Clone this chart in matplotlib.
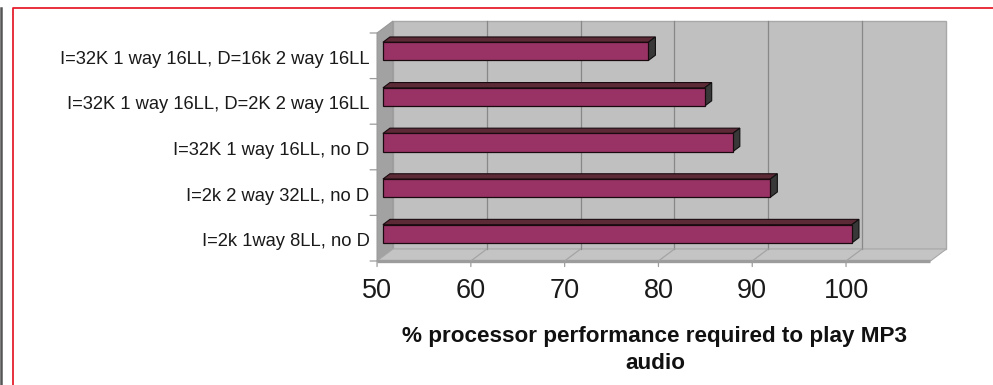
import matplotlib
matplotlib.use("Agg")
import matplotlib.pyplot as plt
from matplotlib.patches import Polygon
from matplotlib.lines import Line2D

plt.rcParams['font.family'] = ['Liberation Sans', 'DejaVu Sans']

# Cache configurations (top to bottom) and processor load needed for MP3 playback
configs = [
    "I=32K 1 way 16LL, D=16k 2 way 16LL",
    "I=32K 1 way 16LL, D=2K 2 way 16LL",
    "I=32K 1 way 16LL, no D",
    "I=2k 2 way 32LL, no D",
    "I=2k 1way 8LL, no D",
]
perf = [78.3, 84.3, 87.3, 91.3, 100.0]
ticks = [50, 60, 70, 80, 90, 100]
xlabel_lines = ["% processor performance required to play MP3", "audio"]

XMIN, XMAX = 50, 109
# oblique depth offset of the front plane relative to the back wall (data units)
DX, DY = -1.70, 0.263
BAR_FRONT, BAR_BACK = 0.63, 0.19   # depth fractions occupied by the bars
HALF = 0.2                         # half bar thickness (category units)

W, H = 993, 385
fig = plt.figure(figsize=(W / 100, H / 100), dpi=100)
ax = fig.add_axes([393 / W, 1 - 249 / H, 553.4 / W, 228 / H])
ax.set_xlim(XMIN, XMAX)
ax.set_ylim(len(configs) - 0.5, -0.5)
ax.axis('off')


def at(x, y, d):
    """Project a point of the back plane forward by depth fraction d."""
    return (x + d * DX, y + d * DY)


top, bot = -0.5, len(configs) - 0.5

# back wall
ax.add_patch(Polygon([at(XMIN, top, 0), at(XMAX, top, 0), at(XMAX, bot, 0), at(XMIN, bot, 0)],
                     closed=True, facecolor='#c0c0c0', edgecolor='#a8a8a8', lw=1.0,
                     clip_on=False, zorder=1))
# left side wall
ax.add_patch(Polygon([at(XMIN, top, 0), at(XMIN, top, 1), at(XMIN, bot, 1), at(XMIN, bot, 0)],
                     closed=True, facecolor='#a2a2a2', edgecolor='#989898', lw=0.8,
                     clip_on=False, zorder=1))
# floor
ax.add_patch(Polygon([at(XMIN, bot, 0), at(XMAX, bot, 0), at(XMAX, bot, 1), at(XMIN, bot, 1)],
                     closed=True, facecolor='#c4c4c4', edgecolor='#a8a8a8', lw=0.8,
                     clip_on=False, zorder=1))
# front edge of floor (value axis line)
ax.plot(*zip(at(XMIN, bot, 1), at(XMAX, bot, 1)), color='#9c9c9c', lw=2.4,
        solid_capstyle='butt', clip_on=False, zorder=2)

# gridlines on back wall and floor
for t in ticks[1:]:
    ax.plot(*zip(at(t, top, 0), at(t, bot, 0)), color='#888888', lw=0.9, clip_on=False, zorder=2)
    ax.plot(*zip(at(t, bot, 0), at(t, bot, 1)), color='#a4a4a4', lw=0.9, clip_on=False, zorder=2)

# value tick marks and labels
for t in ticks:
    x0, y0 = at(t, bot, 1)
    ax.annotate('', xy=(x0, y0), xytext=(0, -4), textcoords='offset points',
                arrowprops=dict(arrowstyle='-', color='#9c9c9c', lw=0.9,
                                shrinkA=0, shrinkB=0), annotation_clip=False)
    ax.annotate(str(t), xy=(x0, y0), xytext=(0, -27), textcoords='offset points',
                ha='center', va='baseline', fontsize=19.5, color='#1a1a1a',
                family=['Liberation Sans Narrow', 'Liberation Sans'],
                annotation_clip=False)

# category tick marks on the front edge of the side wall
for k in range(len(configs) + 1):
    x0, y0 = at(XMIN, k - 0.5, 1)
    ax.annotate('', xy=(x0, y0), xytext=(-5, 0), textcoords='offset points',
                arrowprops=dict(arrowstyle='-', color='#9c9c9c', lw=0.9,
                                shrinkA=0, shrinkB=0), annotation_clip=False)

# category labels
for i, name in enumerate(configs):
    x0, y0 = at(XMIN, i, 1)
    ax.annotate(name, xy=(x0, y0), xytext=(-5.5, -2.5), textcoords='offset points',
                ha='right', va='center', fontsize=13.2, color='#1a1a1a',
                annotation_clip=False)

# 3D bars
for i, v in enumerate(perf):
    yt, yb = i - HALF, i + HALF
    front = [at(XMIN, yt, BAR_FRONT), at(v, yt, BAR_FRONT), at(v, yb, BAR_FRONT), at(XMIN, yb, BAR_FRONT)]
    topf = [at(XMIN, yt, BAR_FRONT), at(v, yt, BAR_FRONT), at(v, yt, BAR_BACK), at(XMIN, yt, BAR_BACK)]
    side = [at(v, yt, BAR_FRONT), at(v, yb, BAR_FRONT), at(v, yb, BAR_BACK), at(v, yt, BAR_BACK)]
    ax.add_patch(Polygon(topf, closed=True, facecolor='#5c2a36', edgecolor='#1a0a10', lw=0.8,
                         clip_on=False, zorder=4))
    ax.add_patch(Polygon(side, closed=True, facecolor='#383838', edgecolor='#101010', lw=0.8,
                         clip_on=False, zorder=4))
    ax.add_patch(Polygon(front, closed=True, facecolor='#993366', edgecolor='#1a0a10', lw=0.9,
                         clip_on=False, zorder=5))

# axis title, two lines
for line, base in zip(xlabel_lines, [342, 369]):
    fig.text(655 / W, 1 - base / H, line, ha='center', va='baseline', fontsize=16.2,
             fontweight='bold', color='#111111')

# frame decoration
fig.add_artist(Line2D([13 / W, 13 / W, 1.0], [0.0, 1 - 8 / H, 1 - 8 / H],
                      transform=fig.transFigure, color='#e5202e', lw=1.3))
fig.add_artist(Line2D([1 / W, 1 / W], [0.0, 1 - 8 / H], transform=fig.transFigure,
                      color='#555555', lw=1.8))

fig.savefig("out.png", dpi=100)
